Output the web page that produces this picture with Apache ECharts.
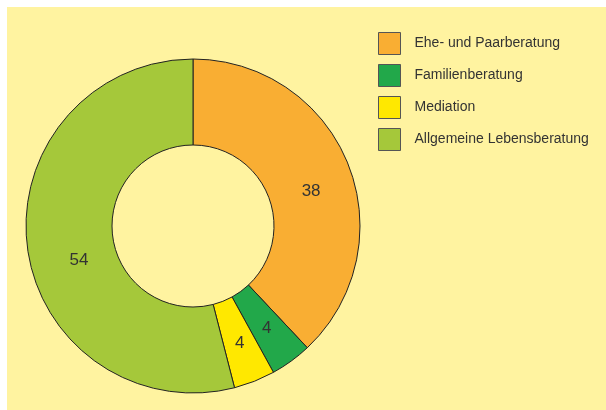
<!DOCTYPE html>
<html><head><meta charset="utf-8">
<script src="https://cdn.jsdelivr.net/npm/echarts@6/dist/echarts.min.js"></script>
<style>html,body{margin:0;padding:0;background:#fff;}#c{width:606px;height:410px;}</style>
</head><body><div id="c"></div>
<script>
const categories = ['Ehe- und Paarberatung', 'Familienberatung', 'Mediation', 'Allgemeine Lebensberatung'];
const values = [38, 4, 4, 54];
const colors = ['#F9AE33', '#22A84A', '#FFE800', '#A5C83A'];
// label nudges (style only)
const labelNudge = [[0, 12], [-1, 0], [0, -1], [12, 18]];

const chart = echarts.init(document.getElementById('c'), null, {renderer: 'canvas'});
chart.setOption({
  animation: false,
  backgroundColor: '#ffffff',
  graphic: [{type: 'rect', left: 7, top: 7, shape: {width: 599, height: 403}, style: {fill: '#FFF3A0'}, z: -10}],
  legend: {
    orient: 'vertical', left: 378, top: 32, padding: 0,
    itemWidth: 22, itemHeight: 22, itemGap: 9,
    icon: 'rect',
    textStyle: {fontFamily: 'Arial, Liberation Sans', fontSize: 14, color: '#333', padding: [0,0,0,9]},
    itemStyle: {borderColor: '#555', borderWidth: 1},
    data: categories
  },
  series: [{
    type: 'pie',
    center: [193, 226],
    radius: [81, 167],
    startAngle: 90,
    clockwise: true,
    label: {show: true, position: 'inside', formatter: '{c}', fontFamily: 'Arial, Liberation Sans', fontSize: 17, color: '#333'},
    labelLine: {show: false},
    itemStyle: {borderColor: '#222', borderWidth: 1},
    emphasis: {disabled: true},
    data: categories.map((n, i) => ({name: n, value: values[i], itemStyle: {color: colors[i]}, label: {offset: labelNudge[i]}}))
  }]
});
</script></body></html>
